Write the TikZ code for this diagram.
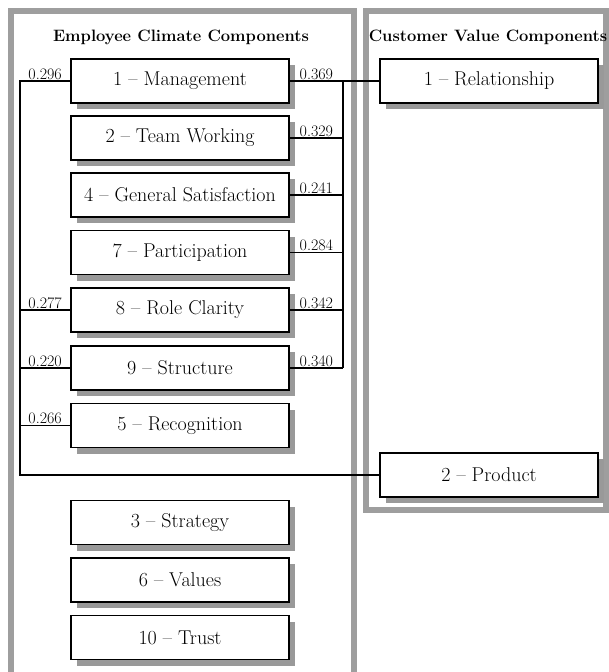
\documentclass[tikz,border=0pt]{standalone}
\usepackage{fontspec}
\usepackage{tikz}
\usetikzlibrary{shadows,calc}

\begin{document}
\begin{tikzpicture}[x=1pt,y=-1pt,
  panel/.style={draw=black!38,line width=6pt},
  head/.style={font=\bfseries\fontsize{16.5}{18}\selectfont},
  comp/.style={draw,line width=1.6pt,fill=white,minimum width=218pt,minimum height=44pt,inner sep=0pt,
    font=\fontsize{20}{22}\selectfont,
    drop shadow={shadow xshift=6pt,shadow yshift=-6pt,fill=black!40,opacity=1}},
  link/.style={line width=1.4pt},
  wt/.style={above,inner sep=1.5pt,font=\fontsize{16}{18}\selectfont}]
\useasboundingbox (0,0) rectangle (609,672);
\draw[panel] (11,11) rectangle (354,690);
\draw[panel] (366,11) rectangle (606,510);
\node[head] (ectitle) at (181,37) {Employee Climate Components};
\node[head] (cvtitle) at (488,37) {Customer Value Components};
\foreach \n/\y/\t in {mgmt/81/1 -- Management, team/138/2 -- Team Working,
    gensat/195/4 -- General Satisfaction, part/252.5/7 -- Participation,
    role/310/8 -- Role Clarity, struct/368/9 -- Structure, recog/425.5/5 -- Recognition,
    strat/522.5/3 -- Strategy, values/580/6 -- Values, trust/637.5/10 -- Trust}
  \node[comp] (\n) at (180,\y) {\t};
\node[comp] (rel) at (489,81) {1 -- Relationship};
\node[comp] (prod) at (489,475) {2 -- Product};
% links to product
\coordinate (ltop) at (20,81);
\coordinate (lbot) at (20,475);
\draw[link] (mgmt.west) -- (ltop) -- (lbot) -- (prod.west);
\foreach \n in {role,struct,recog}
  \draw[link] (\n.west) -- (\n.west -| ltop);
% links to relationship
\coordinate (rtop) at (343,81);
\coordinate (rbot) at (343,368);
\draw[link] (mgmt.east) -- (rel.west);
\draw[link] (rtop) -- (rbot);
\foreach \n in {team,gensat,part,role,struct}
  \draw[link] (\n.east) -- (\n.east -| rtop);
\foreach \n/\v in {mgmt/0.296,role/0.277,struct/0.220,recog/0.266}
  \node[wt] (l\n) at ($(\n.west)!0.5!(\n.west -| ltop)$) {\v};
\foreach \n/\v in {mgmt/0.369,team/0.329,gensat/0.241,part/0.284,role/0.342,struct/0.340}
  \node[wt] (r\n) at ($(\n.east)!0.5!(\n.east -| rtop)$) {\v};
\end{tikzpicture}
\end{document}
